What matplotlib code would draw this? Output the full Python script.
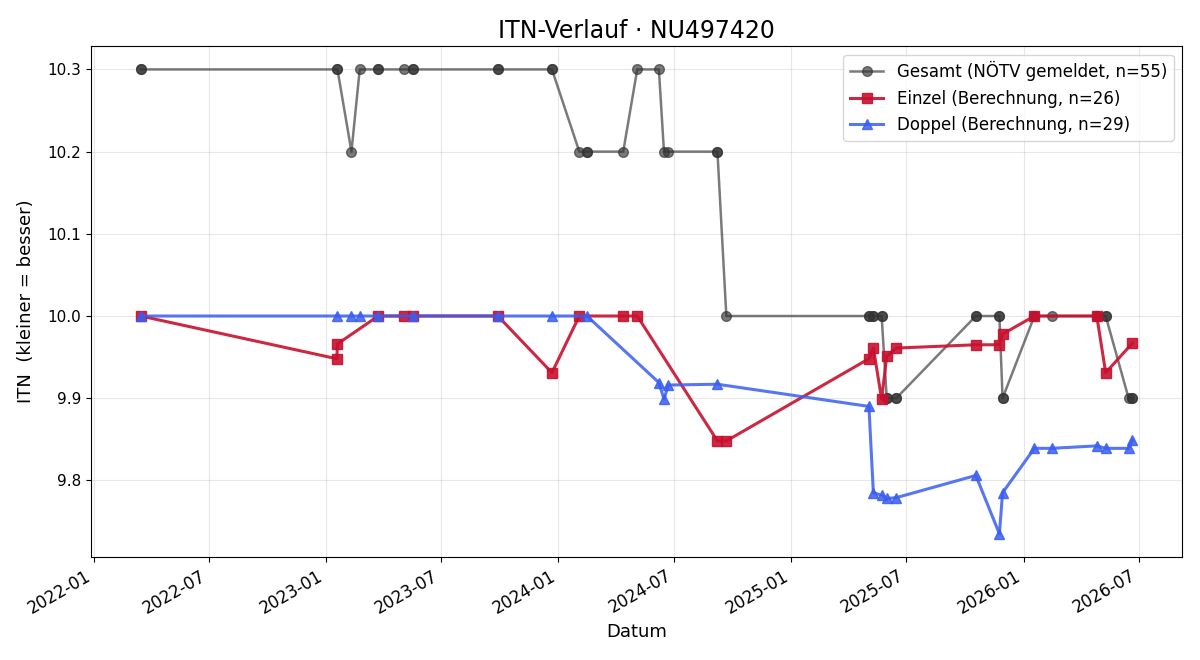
import numpy as np
import pandas as pd
import matplotlib
matplotlib.use("Agg")
import matplotlib.pyplot as plt

# Gesamt (reported ITN)
gesamt_dates = ["2022-03-16", "2022-03-16", "2023-01-18", "2023-01-19", "2023-02-10",
                "2023-02-23", "2023-03-24", "2023-03-24", "2023-05-03", "2023-05-18",
                "2023-05-18", "2023-09-28", "2023-09-28", "2023-12-22", "2023-12-22",
                "2024-02-03", "2024-02-15", "2024-02-15", "2024-04-12", "2024-05-04",
                "2024-06-07", "2024-06-15", "2024-06-22", "2024-09-07", "2024-09-07",
                "2024-09-21", "2025-05-03", "2025-05-03", "2025-05-10", "2025-05-10",
                "2025-05-23", "2025-05-23", "2025-05-31", "2025-05-31", "2025-06-15",
                "2025-06-15", "2025-10-18", "2025-10-18", "2025-11-24", "2025-11-24",
                "2025-11-29", "2025-11-29", "2026-01-18", "2026-01-18", "2026-02-14",
                "2026-04-26", "2026-04-26", "2026-05-10", "2026-05-10", "2026-06-15",
                "2026-06-21", "2026-06-21"]
gesamt_vals = [10.3, 10.3, 10.3, 10.3, 10.2,
               10.3, 10.3, 10.3, 10.3, 10.3,
               10.3, 10.3, 10.3, 10.3, 10.3,
               10.2, 10.2, 10.2, 10.2, 10.3,
               10.3, 10.2, 10.2, 10.2, 10.2,
               10.0, 10.0, 10.0, 10.0, 10.0,
               10.0, 10.0, 9.9, 9.9, 9.9,
               9.9, 10.0, 10.0, 10.0, 10.0,
               9.9, 9.9, 10.0, 10.0, 10.0,
               10.0, 10.0, 10.0, 10.0, 9.9,
               9.9, 9.9]

# Einzel (computed)
einzel_dates = ["2022-03-16", "2023-01-18", "2023-01-19", "2023-03-24", "2023-05-03",
                "2023-05-18", "2023-09-28", "2023-12-22", "2024-02-03", "2024-04-12",
                "2024-05-04", "2024-09-07", "2024-09-21", "2025-05-03", "2025-05-10",
                "2025-05-23", "2025-05-31", "2025-06-15", "2025-10-18", "2025-11-24",
                "2025-11-29", "2026-01-18", "2026-04-26", "2026-05-10", "2026-06-21"]
einzel_vals = [10.0, 9.948, 9.966, 10.0, 10.0,
               10.0, 10.0, 9.931, 10.0, 10.0,
               10.0, 9.848, 9.848, 9.948, 9.961,
               9.899, 9.951, 9.961, 9.965, 9.965,
               9.978, 10.0, 10.0, 9.931, 9.967]

# Doppel (computed)
doppel_dates = ["2022-03-16", "2023-01-18", "2023-02-10", "2023-02-23", "2023-03-24",
                "2023-05-18", "2023-09-28", "2023-12-22", "2024-02-15", "2024-06-07",
                "2024-06-15", "2024-06-22", "2024-09-07", "2025-05-03", "2025-05-10",
                "2025-05-23", "2025-05-31", "2025-06-15", "2025-10-18", "2025-11-24",
                "2025-11-29", "2026-01-18", "2026-02-14", "2026-04-26", "2026-05-10",
                "2026-06-15", "2026-06-21"]
doppel_vals = [10.0, 10.0, 10.0, 10.0, 10.0,
               10.0, 10.0, 10.0, 10.0, 9.919,
               9.899, 9.916, 9.917, 9.890, 9.785,
               9.782, 9.778, 9.779, 9.806, 9.735,
               9.785, 9.839, 9.839, 9.842, 9.839,
               9.839, 9.849]

fig, ax = plt.subplots(figsize=(12, 6.6), dpi=100)

ax.plot(pd.to_datetime(gesamt_dates), gesamt_vals, marker="o", markersize=7,
        linewidth=1.8, color="#333333", alpha=0.65,
        label="Gesamt (NÖTV gemeldet, n=55)")
ax.plot(pd.to_datetime(einzel_dates), einzel_vals, marker="s", markersize=7.5,
        linewidth=2.2, color="#c8102e", alpha=0.9,
        label="Einzel (Berechnung, n=26)")
ax.plot(pd.to_datetime(doppel_dates), doppel_vals, marker="^", markersize=7.5,
        linewidth=2.2, color="#3a5ef0", alpha=0.85,
        label="Doppel (Berechnung, n=29)")

ax.set_title("ITN-Verlauf · NU497420", fontsize=17)
ax.set_xlabel("Datum", fontsize=13)
ax.set_ylabel("ITN  (kleiner = besser)", fontsize=13, labelpad=9)
ax.tick_params(axis="y", labelsize=11)
ax.tick_params(axis="x", labelsize=12)
ax.grid(True, alpha=0.3)
ax.legend(loc="upper right", fontsize=12)
fig.autofmt_xdate()
fig.subplots_adjust(left=0.076, right=0.985, top=0.930, bottom=0.156)
fig.savefig("out.png")
